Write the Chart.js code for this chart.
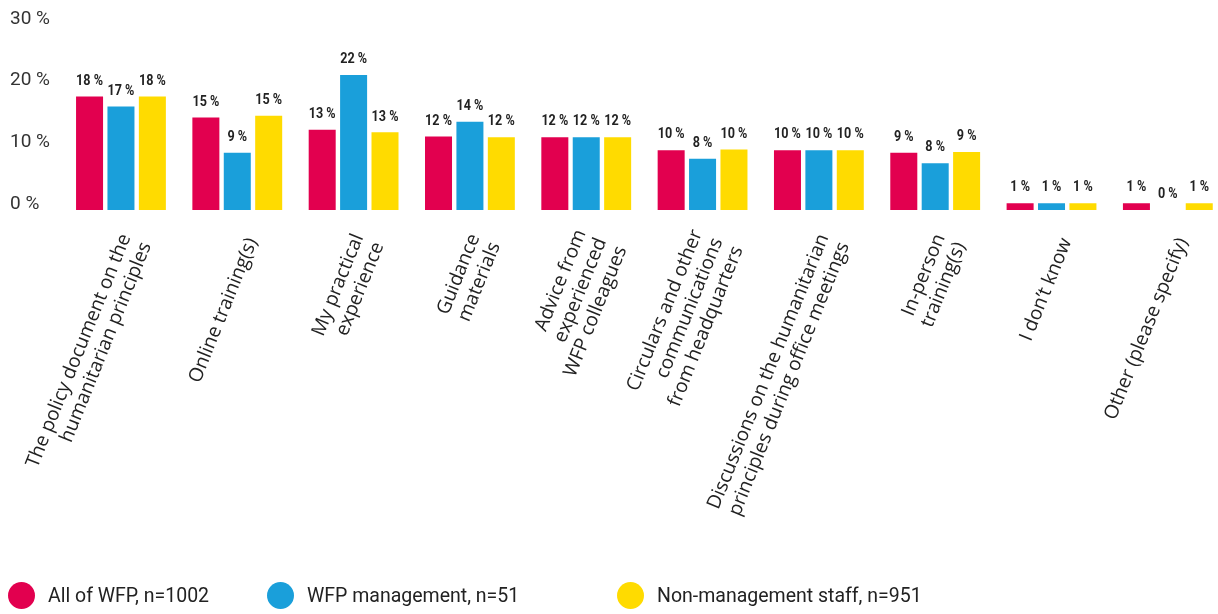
<!DOCTYPE html>
<html>
<head>
<meta charset="utf-8">
<script src="https://cdn.jsdelivr.net/npm/chart.js@4.4.1/dist/chart.umd.min.js"></script>
<style>
  html, body { margin: 0; padding: 0; background: #fff; overflow: hidden; }
  #wrap { position: relative; width: 1218px; height: 614px; overflow: hidden; }
  #chart { position: absolute; left: 0; top: 0; }
  .item { position: absolute; top: 582px; display: flex; align-items: center; font: 19.5px Roboto, sans-serif; color: #222; height: 27px; }
  .dot { width: 27px; height: 27px; border-radius: 50%; margin-right: 13px; flex: none; }
</style>
</head>
<body>
<div id="wrap">
  <canvas id="chart" width="1226" height="614"></canvas>
  <div id="legend"></div>
</div>
<script>
const categories = [
  ["The policy document on the", "humanitarian principles"],
  "Online training(s)",
  ["My practical", "experience"],
  ["Guidance", "materials"],
  ["Advice from", "experienced", "WFP colleagues"],
  ["Circulars and other", "communications", "from headquarters"],
  ["Discussions on the humanitarian", "principles during office meetings"],
  ["In-person", "training(s)"],
  "I don’t know",
  "Other (please specify)"
];

const seriesNames = ["All of WFP, n=1002", "WFP management, n=51", "Non-management staff, n=951"];
const seriesColors = ["#E2004F", "#1A9FDA", "#FFDB00"];

const allWfp = [18.4, 15.0, 13.0, 11.9, 11.8, 9.7, 9.7, 9.3, 1.1, 1.1];
const management = [16.8, 9.3, 21.9, 14.3, 11.8, 8.3, 9.7, 7.6, 1.1, 0];
const nonManagement = [18.4, 15.3, 12.6, 11.8, 11.8, 9.8, 9.7, 9.4, 1.1, 1.1];

const yTicks = [0, 10, 20, 30];

// values above bars (slightly narrowed, the original uses a condensed face)
const valueLabels = {
  id: "valueLabels",
  afterDatasetsDraw(chart) {
    const ctx = chart.ctx;
    ctx.save();
    ctx.font = "bold 15px Roboto, sans-serif";
    ctx.fillStyle = "#222";
    ctx.textAlign = "center";
    ctx.textBaseline = "bottom";
    chart.data.datasets.forEach((ds, i) => {
      chart.getDatasetMeta(i).data.forEach((bar, j) => {
        ctx.save();
        ctx.translate(bar.x, bar.y - 8);
        ctx.scale(0.84, 1);
        ctx.fillText(Math.round(ds.data[j]) + " %", 0, 0);
        ctx.restore();
      });
    });
    ctx.restore();
  }
};

// rotated category labels, each block centred on its tick
const categoryLabels = {
  id: "categoryLabels",
  afterDraw(chart) {
    const ctx = chart.ctx;
    const xs = chart.scales.x;
    const lineH = 22;
    ctx.save();
    ctx.font = "19.3px 'Open Sans', sans-serif";
    ctx.fillStyle = "#222";
    ctx.textAlign = "right";
    ctx.textBaseline = "middle";
    categories.forEach((lab, i) => {
      const lines = Array.isArray(lab) ? lab : [lab];
      ctx.save();
      ctx.translate(xs.getPixelForTick(i) + 15, xs.top + 29);
      ctx.rotate(-68 * Math.PI / 180);
      lines.forEach((ln, k) => {
        ctx.fillText(ln, 0, (k - (lines.length - 1) / 2) * lineH);
      });
      ctx.restore();
    });
    ctx.restore();
  }
};

const chart = new Chart(document.getElementById("chart"), {
  type: "bar",
  data: {
    labels: categories,
    datasets: [
      { label: seriesNames[0], data: allWfp, backgroundColor: seriesColors[0] },
      { label: seriesNames[1], data: management, backgroundColor: seriesColors[1] },
      { label: seriesNames[2], data: nonManagement, backgroundColor: seriesColors[2] }
    ]
  },
  options: {
    responsive: false,
    animation: false,
    events: [],
    layout: { padding: { top: 25, left: 10, right: 0, bottom: 0 } },
    datasets: {
      bar: { categoryPercentage: 0.81, barPercentage: 0.86 }
    },
    plugins: {
      legend: { display: false },
      tooltip: { enabled: false }
    },
    scales: {
      x: {
        grid: { display: false },
        border: { display: false },
        ticks: { display: false },
        afterFit(scale) {
          scale.height = 404;
          scale.paddingLeft = 0;
          scale.paddingRight = 0;
        }
      },
      y: {
        min: 0,
        max: 30,
        grid: { display: false },
        border: { display: false },
        afterBuildTicks(scale) {
          scale.ticks = yTicks.map(v => ({ value: v }));
        },
        ticks: {
          crossAlign: "far",
          labelOffset: -6,
          color: "#333",
          font: { family: "Roboto", size: 19 },
          callback: v => v + " %"
        },
        afterFit(scale) {
          scale.width = 52.8;
          scale.paddingTop = 0;
          scale.paddingBottom = 0;
        }
      }
    }
  },
  plugins: [valueLabels, categoryLabels]
});

// legend built from the chart's datasets
const legendLeft = [8, 267, 617];
const legend = document.getElementById("legend");
chart.data.datasets.forEach((ds, i) => {
  const item = document.createElement("div");
  item.className = "item";
  item.style.left = legendLeft[i] + "px";
  const dot = document.createElement("span");
  dot.className = "dot";
  dot.style.background = ds.backgroundColor;
  const txt = document.createElement("span");
  txt.textContent = ds.label;
  item.appendChild(dot);
  item.appendChild(txt);
  legend.appendChild(item);
});
</script>
</body>
</html>
